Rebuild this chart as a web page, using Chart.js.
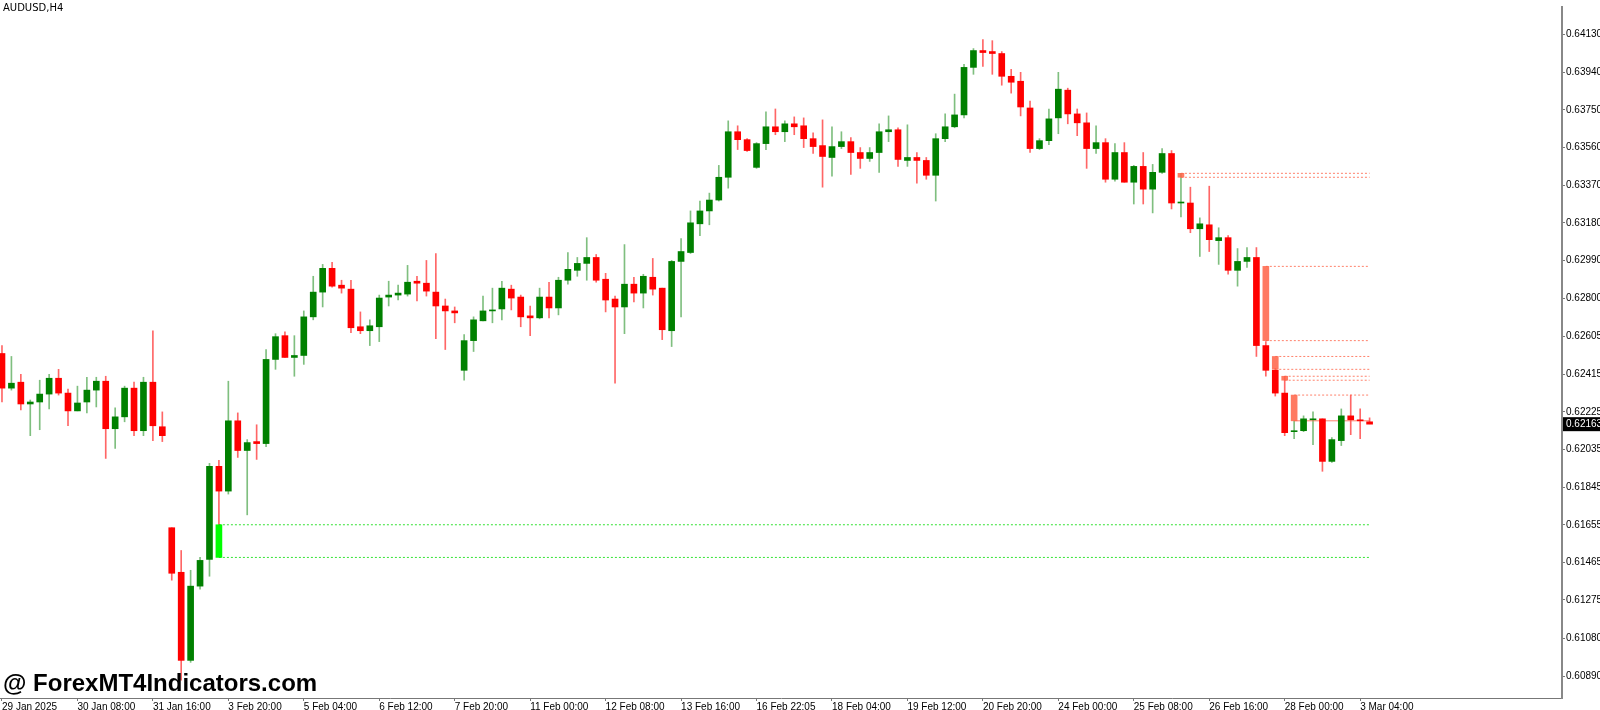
<!DOCTYPE html>
<html>
<head>
<meta charset="utf-8">
<script src="https://cdn.jsdelivr.net/npm/chart.js@4/dist/chart.umd.min.js"></script>
<style>
  body { margin: 0; background: #fff; }
  #wrap { width: 1600px; height: 710px; position: relative; }
</style>
</head>
<body>
<div id="wrap"><canvas id="myChart" width="1600" height="710"></canvas></div>
<script>
// AUDUSD H4 candles
var opens = [.62520,.62345,.62375,.62265,.62275,.62315,.62395,.62320,.62230,.62275,
.62335,.62380,.62140,.62200,.62345,.62130,.62375,.62150,.61640,.61415,
.60970,.61345,.61480,.61950,.61825,.62180,.62030,.62075,.62065,.62490,
.62610,.62500,.62510,.62705,.62830,.62950,.62865,.62845,.62655,.62635,
.62655,.62805,.62815,.62820,.62885,.62875,.62830,.62760,.62735,.62435,
.62585,.62685,.62735,.62745,.62845,.62805,.62710,.62700,.62805,.62750,
.62890,.62940,.62975,.63005,.62895,.62795,.62755,.62870,.62825,.62905,
.62850,.62635,.62985,.63030,.63175,.63240,.63295,.63410,.63640,.63600,
.63460,.63580,.63665,.63640,.63680,.63670,.63605,.63570,.63510,.63565,
.63590,.63535,.63505,.63535,.63640,.63650,.63495,.63510,.63495,.63420,
.63605,.63665,.63725,.63965,.64050,.64045,.64035,.63920,.63895,.63760,
.63555,.63595,.63710,.63850,.63730,.63685,.63555,.63585,.63400,.63535,
.63385,.63465,.63350,.63435,.63530,.63280,.63280,.63150,.63170,.63090,
.63105,.62940,.62985,.63005,.62560,.62435,.62320,.62125,.62130,.62185,
.62190,.61975,.62080,.62205,.62185,.62175];
var highs = [.62560,.62505,.62415,.62285,.62385,.62415,.62440,.62340,.62355,.62400,
.62400,.62405,.62245,.62355,.62375,.62400,.62635,.62225,.61640,.61525,
.61425,.61490,.61965,.61980,.62380,.62220,.62085,.62160,.62540,.62620,
.62630,.62610,.62735,.62910,.62970,.62980,.62890,.62890,.62730,.62690,
.62815,.62885,.62865,.62965,.62910,.62990,.63025,.62795,.62755,.62615,
.62705,.62810,.62850,.62885,.62865,.62815,.62760,.62850,.62880,.62905,
.63030,.63005,.63105,.63020,.62925,.62810,.63070,.62905,.62920,.63000,
.62850,.62990,.63100,.63240,.63290,.63330,.63470,.63695,.63670,.63605,
.63585,.63740,.63755,.63695,.63715,.63710,.63635,.63700,.63665,.63640,
.63610,.63560,.63560,.63680,.63720,.63660,.63675,.63535,.63510,.63630,
.63730,.63830,.63980,.64060,.64105,.64100,.64045,.63955,.63940,.63795,
.63605,.63755,.63940,.63860,.63755,.63735,.63670,.63605,.63580,.63585,
.63470,.63535,.63475,.63555,.63545,.63430,.63360,.63205,.63365,.63155,
.63115,.63050,.63055,.63055,.62580,.62445,.62405,.62180,.62205,.62225,
.62190,.62095,.62240,.62310,.62240,.62195];
var lows = [.62275,.62335,.62235,.62105,.62135,.62240,.62310,.62155,.62230,.62220,
.62250,.61990,.62040,.62175,.62105,.62105,.62080,.62075,.61375,.60870,
.60960,.61330,.61395,.61655,.61810,.61995,.61705,.61985,.62050,.62440,
.62500,.62405,.62465,.62690,.62755,.62855,.62825,.62625,.62620,.62560,
.62580,.62760,.62790,.62810,.62785,.62810,.62595,.62540,.62675,.62385,
.62530,.62685,.62675,.62690,.62740,.62655,.62610,.62695,.62700,.62715,
.62870,.62910,.62890,.62880,.62730,.62370,.62620,.62780,.62750,.62815,
.62590,.62555,.62705,.63025,.63115,.63170,.63290,.63355,.63550,.63540,
.63455,.63550,.63625,.63590,.63625,.63560,.63530,.63360,.63415,.63555,
.63425,.63455,.63490,.63435,.63590,.63465,.63465,.63380,.63400,.63290,
.63590,.63660,.63710,.63930,.63970,.63930,.63875,.63835,.63720,.63535,
.63550,.63575,.63630,.63680,.63620,.63455,.63530,.63385,.63390,.63385,
.63275,.63275,.63230,.63430,.63250,.63210,.63130,.63010,.63035,.62970,
.62920,.62860,.62955,.62505,.62405,.62305,.62105,.62090,.62125,.62060,
.61925,.61970,.62055,.62110,.62090,.62165];
var closes = [.62345,.62370,.62265,.62275,.62315,.62395,.62320,.62230,.62270,.62335,
.62380,.62140,.62200,.62345,.62130,.62375,.62155,.62105,.61410,.60970,
.61345,.61475,.61950,.61825,.62180,.62030,.62070,.62065,.62490,.62605,
.62500,.62510,.62705,.62830,.62950,.62860,.62850,.62650,.62635,.62660,
.62800,.62815,.62825,.62880,.62875,.62835,.62760,.62735,.62725,.62585,
.62690,.62735,.62740,.62850,.62800,.62705,.62700,.62805,.62750,.62890,
.62945,.62975,.63005,.62890,.62790,.62755,.62870,.62825,.62910,.62845,
.62640,.62985,.63035,.63180,.63240,.63295,.63410,.63640,.63600,.63545,
.63580,.63665,.63640,.63680,.63665,.63605,.63565,.63515,.63565,.63590,
.63535,.63505,.63535,.63640,.63650,.63500,.63510,.63495,.63420,.63605,
.63665,.63725,.63965,.64050,.64040,.64035,.63920,.63890,.63765,.63555,
.63595,.63705,.63855,.63730,.63685,.63555,.63585,.63400,.63535,.63385,
.63465,.63350,.63435,.63530,.63280,.63285,.63150,.63175,.63095,.63105,
.62940,.62985,.63005,.62560,.62435,.62320,.62120,.62130,.62190,.62190,
.61975,.62085,.62205,.62185,.62180,.62163];

var timeLabels = ["29 Jan 2025","30 Jan 08:00","31 Jan 16:00","3 Feb 20:00","5 Feb 04:00","6 Feb 12:00",
  "7 Feb 20:00","11 Feb 00:00","12 Feb 08:00","13 Feb 16:00","16 Feb 22:05","18 Feb 04:00","19 Feb 12:00",
  "20 Feb 20:00","24 Feb 00:00","25 Feb 08:00","26 Feb 16:00","28 Feb 00:00","3 Mar 04:00"];
var priceTicks = [0.64130,0.63940,0.63750,0.63560,0.63370,0.63180,0.62990,0.62800,0.62605,0.62415,
  0.62225,0.62035,0.61845,0.61655,0.61465,0.61275,0.61080,0.60890];
var lastPrice = 0.62163;

// indicator zones: candle index, top, bottom
var supplyIdx = [125,134,135,136,137];
var supplyTop = [0.63430,0.62960,0.62505,0.62405,0.62310];
var supplyBot = [0.63410,0.62585,0.62440,0.62385,0.62180];
var demandIdx = [23];
var demandTop = [0.61655];
var demandBot = [0.61490];

var green = 'rgb(0,128,0)', red = 'rgb(255,0,0)';
var bodies = [], wicks = [], bodyCol = [], wickCol = [];
for (var i = 0; i < opens.length; i++) {
  bodies.push({x: i, y: [opens[i], closes[i]]});
  wicks.push({x: i, y: [lows[i], highs[i]]});
  var up = closes[i] >= opens[i];
  bodyCol.push(up ? green : red);
  wickCol.push(up ? 'rgba(0,128,0,0.5)' : 'rgba(255,0,0,0.6)');
}
var lastIdx = opens.length - 1;

var datasets = [];
datasets.push({type: 'bar', data: bodies, backgroundColor: bodyCol, barThickness: 6, minBarLength: 1, grouped: false});

// zone boxes and their lines
var zoneBoxes = [], zoneCol = [];
supplyIdx.forEach(function (ix, k) {
  zoneBoxes.push({x: ix, y: [supplyBot[k], supplyTop[k]]}); zoneCol.push('rgba(255,99,71,0.85)');
  datasets.push({type: 'line', data: [{x: ix, y: supplyTop[k]}, {x: lastIdx, y: supplyTop[k]}],
    borderColor: 'rgba(255,99,71,0.8)', borderWidth: 1, borderDash: [2, 2], pointRadius: 0});
  datasets.push({type: 'line', data: [{x: ix, y: supplyBot[k]}, {x: lastIdx, y: supplyBot[k]}],
    borderColor: 'rgba(255,99,71,0.8)', borderWidth: 1, borderDash: k == supplyIdx.length - 1 ? [] : [2, 2], pointRadius: 0});
});
demandIdx.forEach(function (ix, k) {
  zoneBoxes.push({x: ix, y: [demandBot[k], demandTop[k]]}); zoneCol.push('rgb(0,255,0)');
  [demandTop[k], demandBot[k]].forEach(function (v) {
    datasets.push({type: 'line', data: [{x: ix, y: v}, {x: lastIdx, y: v}],
      borderColor: 'rgba(0,220,0,0.8)', borderWidth: 1, borderDash: [2, 2], pointRadius: 0});
  });
});
datasets.push({type: 'bar', data: zoneBoxes, backgroundColor: zoneCol, barThickness: 6, grouped: false});
datasets.push({type: 'bar', data: wicks, backgroundColor: wickCol, barThickness: 1, grouped: false});

var extras = {
  id: 'extras',
  afterDraw: function (chart) {
    var ctx = chart.ctx, y = chart.scales.y;
    ctx.save();
    ctx.fillStyle = '#000';
    ctx.font = '10px "DejaVu Sans"';
    ctx.textBaseline = 'top';
    ctx.fillText('AUDUSD,H4', 3, 3);
    ctx.font = 'bold 24px "Liberation Sans"';
    ctx.textBaseline = 'alphabetic';
    ctx.fillText('@ ForexMT4Indicators.com', 3, 691);
    var py = y.getPixelForValue(lastPrice);
    ctx.fillRect(1563, py - 7, 37, 14);
    ctx.fillStyle = '#fff';
    ctx.font = '10px "Liberation Sans"';
    ctx.textBaseline = 'middle';
    ctx.fillText(lastPrice.toFixed(5), 1566, py);
    ctx.restore();
  }
};

new Chart(document.getElementById('myChart'), {
  data: {datasets: datasets},
  plugins: [extras],
  options: {
    responsive: false,
    animation: false,
    layout: {padding: 0},
    plugins: {legend: {display: false}, tooltip: {enabled: false}},
    scales: {
      x: {
        type: 'linear', min: -0.21, max: 165.4, offset: false,
        afterFit: function (s) { s.height = 12; s.paddingLeft = 0; s.paddingRight = 0; },
        afterBuildTicks: function (s) { s.ticks = timeLabels.map(function (t, k) { return {value: k * 8}; }); },
        grid: {drawOnChartArea: false, tickLength: 3, color: '#777', offset: false},
        border: {color: '#777', width: 1},
        ticks: {align: 'start', padding: 0, maxRotation: 0, autoSkip: false, color: '#000',
          font: {family: 'Liberation Sans', size: 10},
          callback: function (v) { return timeLabels[Math.round(v / 8)]; }}
      },
      y: {
        position: 'right', min: 0.60780, max: 0.64270,
        afterFit: function (s) { s.width = 38; },
        afterBuildTicks: function (s) { s.ticks = priceTicks.map(function (v) { return {value: v}; }); },
        grid: {drawOnChartArea: false, tickLength: 3, color: '#777'},
        border: {color: '#888', width: 2},
        ticks: {padding: 1, color: '#000', font: {family: 'Liberation Sans', size: 10},
          callback: function (v) { return v.toFixed(5); }}
      }
    }
  }
});
</script>
</body>
</html>
